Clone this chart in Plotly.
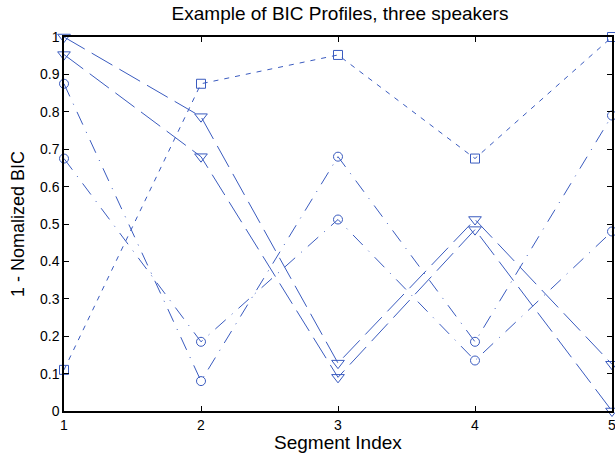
import plotly.graph_objects as go

segments = [1, 2, 3, 4, 5]
square_series = [0.11, 0.875, 0.952, 0.675, 1.0]
circle_a = [0.875, 0.08, 0.68, 0.185, 0.79]
circle_b = [0.675, 0.185, 0.512, 0.135, 0.48]
tri_a = [1.0, 0.787, 0.128, 0.512, 0.125]
tri_b = [0.953, 0.68, 0.09, 0.485, 0.0]
y_ticks = [0, 0.1, 0.2, 0.3, 0.4, 0.5, 0.6, 0.7, 0.8, 0.9, 1]
y_tick_labels = ["0", "0.1", "0.2", "0.3", "0.4", "0.5", "0.6", "0.7", "0.8", "0.9", "1"]

BLUE = "#3a5bbf"
FONT = "Liberation Sans, Arial, sans-serif"
fig = go.Figure()

def add(y, symbol, dash, size):
    fig.add_trace(go.Scatter(
        x=segments, y=y, mode="lines+markers",
        line=dict(color=BLUE, width=1, dash=dash),
        marker=dict(symbol=symbol, size=size, color=BLUE, line=dict(color=BLUE, width=1)),
        cliponaxis=False, showlegend=False))

add(square_series, "square-open", "5px,6px", 9)
add(circle_a, "circle-open", "14px,8px,1px,8px", 9)
add(circle_b, "circle-open", "14px,8px,1px,8px", 9)
add(tri_a, "triangle-down-open", "24px,8px", 11)
add(tri_b, "triangle-down-open", "24px,8px", 11)

tick_font = dict(family=FONT, size=14, color="black")
fig.update_layout(
    width=615, height=455,
    margin=dict(l=64, r=3, t=37, b=44),
    paper_bgcolor="white", plot_bgcolor="white",
    title=dict(text="Example of BIC Profiles, three speakers", x=340 / 615, xanchor="center",
               xref="container", yref="container", y=1 - 13 / 455, yanchor="middle",
               font=dict(family=FONT, size=19, color="black")),
    font=tick_font,
    annotations=[
        dict(text="Segment Index", xref="paper", yref="paper", x=0.5, y=-31 / 374,
             xanchor="center", yanchor="middle", showarrow=False,
             font=dict(family=FONT, size=19, color="black")),
        dict(text="1 - Nomalized BIC", xref="paper", yref="paper", x=-46 / 548, y=0.5,
             xanchor="center", yanchor="middle", showarrow=False, textangle=-90,
             font=dict(family=FONT, size=18, color="black")),
    ],
)
fig.update_xaxes(
    range=[1, 5], tickvals=segments, ticktext=[str(s) for s in segments],
    showgrid=False, zeroline=False, showline=True, linecolor="black", linewidth=1.5,
    mirror="ticks", ticks="inside", ticklen=5, tickcolor="black",
    automargin=False, ticklabeloverflow="allow", tickfont=tick_font,
)
fig.update_yaxes(
    range=[0, 1], tickvals=y_ticks, ticktext=y_tick_labels,
    showgrid=False, zeroline=False, showline=True, linecolor="black", linewidth=1.5,
    mirror="ticks", ticks="inside", ticklen=5, tickcolor="black",
    automargin=False, ticklabeloverflow="allow", tickfont=tick_font,
)
fig.write_html(
    "out.html",
    config={"displayModeBar": False},
    post_script="document.body.style.margin='0';document.body.style.overflow='hidden';",
)
